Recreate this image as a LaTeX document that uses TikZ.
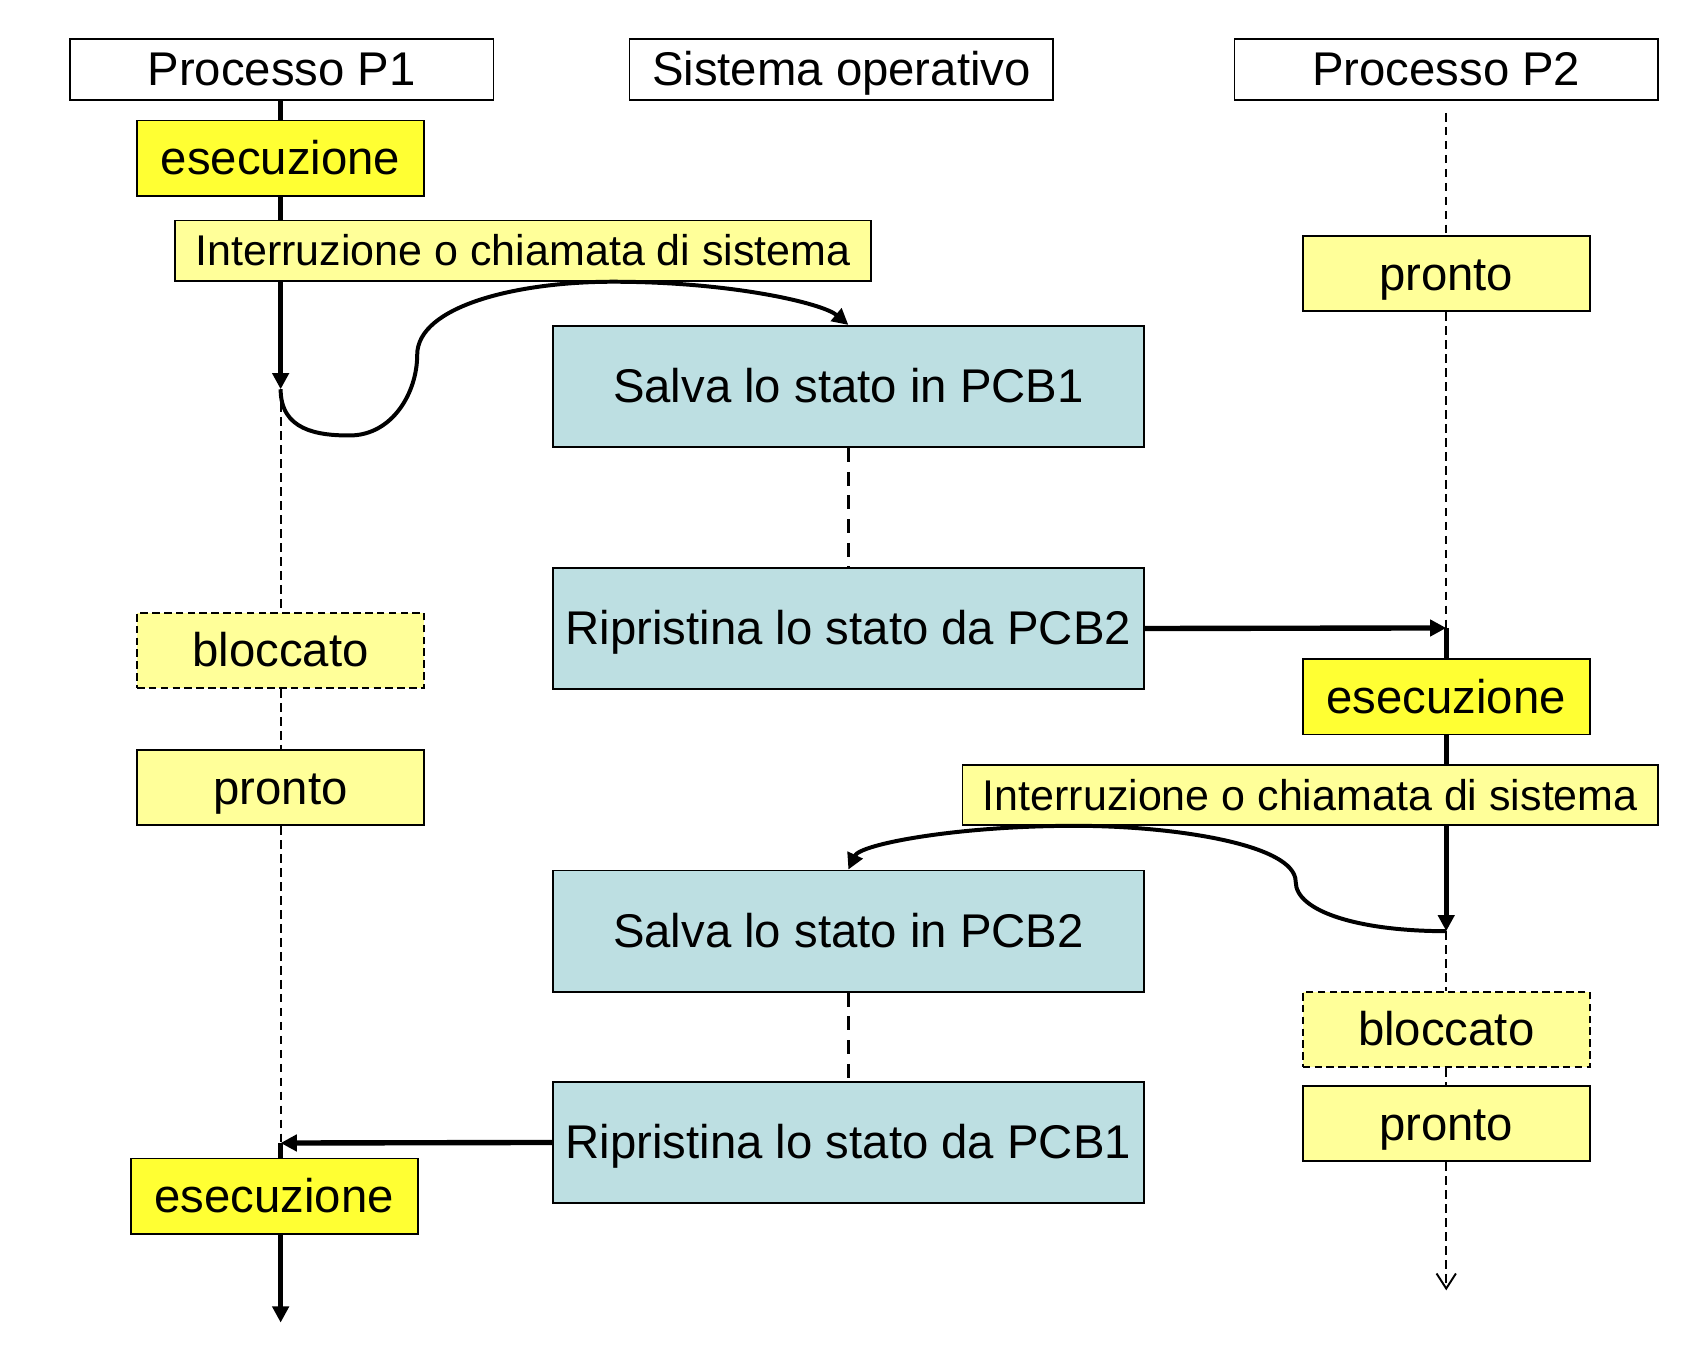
\documentclass[tikz,border=0pt]{standalone}
\usepackage{fontspec}
\setmainfont{Liberation Sans}
\usetikzlibrary{arrows.meta}
\definecolor{runyellow}{HTML}{FFFF33}
\definecolor{readyyellow}{HTML}{FFFF99}
\definecolor{osblue}{HTML}{BDDFE2}
\tikzset{
    statebox/.style={draw, line width=1.6pt, inner sep=0pt,
        text height=39.8pt, text depth=9.3pt, font=\fontsize{44}{50}\selectfont},
    headbox/.style={statebox, fill=white, minimum width=394pt, minimum height=57pt},
    runbox/.style={statebox, fill=runyellow, minimum width=267pt, minimum height=70pt},
    readybox/.style={statebox, fill=readyyellow, minimum width=267pt, minimum height=70pt},
    blockbox/.style={readybox, dash pattern=on 7pt off 4pt},
    trapbox/.style={statebox, fill=readyyellow, minimum width=647pt, minimum height=56pt,
        text height=36.2pt, text depth=8.5pt, font=\fontsize{40}{46}\selectfont},
    osbox/.style={statebox, fill=osblue, minimum width=550pt, minimum height=113pt},
    cpuline/.style={line width=5pt},
    idleline/.style={line width=1.8pt, dash pattern=on 8pt off 5pt},
    osline/.style={line width=3.5pt, dash pattern=on 13pt off 9pt},
    trapline/.style={line width=3.7pt},
    tip/.style={-{Triangle[length=15pt,width=15pt]}}
}
\begin{document}
\begin{tikzpicture}[x=1pt,y=-1pt]
                        \useasboundingbox (0,0) rectangle (1568,1254);

                        \node[headbox] (p1) at (262,64.5) {Processo P1};
                        \node[headbox] (so) at (782.5,64.5) {Sistema operativo};
                        \node[headbox] (p2) at (1345,64.5) {Processo P2};

                        \node[runbox] (ea) at (261,147) {esecuzione};
                        \node[trapbox] (ia) at (486.5,233) {Interruzione o chiamata di sistema};
                        \node[blockbox] (ba) at (261,605) {bloccato};
                        \node[readybox] (ra) at (261,732.5) {pronto};
                        \node[runbox] (ec) at (255,1112.5) {esecuzione};

                        \node[osbox] (s1) at (789,359.5) {Salva lo stato in PCB1};
                        \node[osbox] (r2) at (789,584.5) {Ripristina lo stato da PCB2};
                        \node[osbox] (s2) at (789,866) {Salva lo stato in PCB2};
                        \node[osbox] (r1) at (789,1062.5) {Ripristina lo stato da PCB1};

                        \node[readybox] (rb) at (1345,254.5) {pronto};
                        \node[runbox] (eb) at (1345,648) {esecuzione};
                        \node[trapbox] (ib) at (1218.5,739.5) {Interruzione o chiamata di sistema};
                        \node[blockbox] (bb) at (1345,957.5) {bloccato};
                        \node[readybox] (rc) at (1345,1045) {pronto};

                        \coordinate (ta) at (261,362);
                        \coordinate (tb) at (1345,866);
                        \coordinate (ga) at (261,1063);
                        \coordinate (gb) at (1345,584);
                        \coordinate (enda) at (261,1230);
                        \coordinate (topb) at (1345,105);
                        \coordinate (endb) at (1345,1200);

                        \draw[cpuline] (ea.north |- p1.south) -- (ea.north);
                        \draw[cpuline] (ea.south) -- (ea.south |- ia.north);
                        \draw[cpuline,tip] (ea.south |- ia.south) -- (ta);
                        \draw[idleline] (ta) -- (ba.north);
                        \draw[idleline] (ba.south) -- (ra.north);
                        \draw[idleline] (ra.south) -- (ga);
                        \draw[cpuline,tip] (r1.west) -- (ga);
                        \draw[cpuline] (ga) -- (ga |- ec.north);
                        \draw[cpuline,tip] (ga |- ec.south) -- (enda);

                        \draw[osline] (s1.south) -- (r2.north);
                        \draw[osline] (s2.south) -- (r1.north);

                        \draw[idleline] (topb) -- (rb.north);
                        \draw[idleline] (rb.south) -- (gb);
                        \draw[cpuline,tip] (r2.east) -- (gb);
                        \draw[cpuline] (gb) -- (eb.north);
                        \draw[cpuline] (eb.south) -- (eb.south |- ib.north);
                        \draw[cpuline,tip] (eb.south |- ib.south) -- (tb);
                        \draw[idleline] (tb) -- (bb.north);
                        \draw[idleline] (bb.south) -- (rc.north);
                        \draw[idleline,-{Straight Barb[length=14pt,width=18pt]}] (rc.south) -- (endb);

                        \draw[trapline,tip] (ta) .. controls (261,400) and (295,405) .. (325,405)
                            .. controls (365,405) and (388,365) .. (388,330)
                            .. controls (388,285) and (480,262) .. (570,262)
                            .. controls (680,262) and (765,282) .. (s1.north);
                        \draw[trapline,tip] (tb) .. controls (1265,866) and (1205,848) .. (1205,820)
                            .. controls (1205,785) and (1090,768) .. (1000,768)
                            .. controls (890,768) and (800,785) .. (s2.north);
                    \end{tikzpicture}
\end{document}
